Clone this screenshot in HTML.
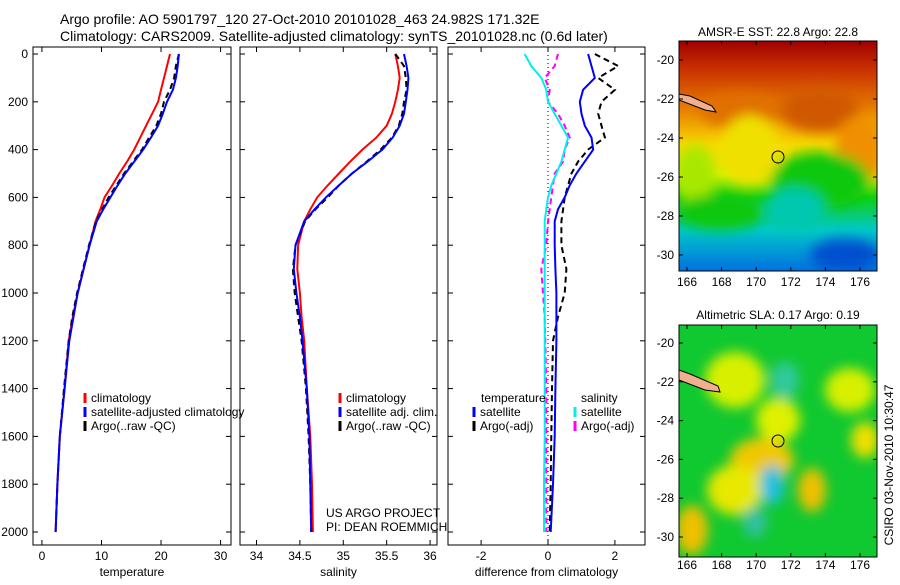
<!DOCTYPE html>
<html><head><meta charset="utf-8"><style>
body{margin:0;background:#fff;font-family:"Liberation Sans",sans-serif}
svg text{font-family:"Liberation Sans",sans-serif;fill:#000}
</style></head><body>
<svg id="c" width="900" height="580" xmlns="http://www.w3.org/2000/svg">
<defs>
<filter id="bl" x="-50%" y="-50%" width="200%" height="200%"><feGaussianBlur stdDeviation="6"/></filter>
<clipPath id="cm1"><rect x="679" y="41" width="198" height="230"/></clipPath>
<clipPath id="cm2"><rect x="679" y="325" width="198" height="232"/></clipPath>
<linearGradient id="sst" x1="0" y1="0" x2="0" y2="1">
<stop offset="0" stop-color="#a00000"/><stop offset="0.12" stop-color="#c83000"/><stop offset="0.3" stop-color="#e88000"/>
<stop offset="0.45" stop-color="#f8d800"/><stop offset="0.58" stop-color="#d8f000"/><stop offset="0.68" stop-color="#10d010"/>
<stop offset="0.82" stop-color="#00c8c8"/><stop offset="1" stop-color="#0070e0"/></linearGradient>
</defs>
<text x="60" y="24" font-size="14">Argo profile: AO 5901797_120 27-Oct-2010 20101028_463 24.982S 171.32E</text>
<text x="60" y="41" font-size="14">Climatology: CARS2009. Satellite-adjusted climatology: synTS_20101028.nc (0.6d later)</text>
<g id="panels"></g>
<!-- SST map -->
<g clip-path="url(#cm1)">
<rect x="679" y="41" width="198" height="230" fill="url(#sst)"/>
<g filter="url(#bl)">
<ellipse cx="820" cy="110" rx="40" ry="22" fill="#d05800"/>
<ellipse cx="860" cy="150" rx="25" ry="35" fill="#f09000"/>
<ellipse cx="740" cy="110" rx="40" ry="18" fill="#e07000"/>
<ellipse cx="695" cy="175" rx="20" ry="30" fill="#a8e800"/>
<ellipse cx="820" cy="180" rx="50" ry="28" fill="#10c810"/>
<ellipse cx="795" cy="210" rx="30" ry="22" fill="#00c8b0"/>
<ellipse cx="720" cy="212" rx="45" ry="18" fill="#10c810"/>
<ellipse cx="845" cy="255" rx="35" ry="16" fill="#0050d0"/>
<ellipse cx="750" cy="150" rx="30" ry="35" fill="#f0e000"/>
</g>
<path d="M679,94 L690,96 L712,106 L716,112 L705,110 L679,100Z" fill="#f0b090" stroke="#000"/>
<circle cx="778" cy="157" r="6" fill="none" stroke="#000"/>
</g>
<rect x="679" y="41" width="198" height="230" fill="none" stroke="#000"/>
<text x="778" y="36" font-size="12" text-anchor="middle">AMSR-E SST: 22.8 Argo: 22.8</text>
<!-- SLA map -->
<g clip-path="url(#cm2)">
<rect x="679" y="325" width="198" height="232" fill="#10c830"/>
<g filter="url(#bl)">
<ellipse cx="762" cy="460" rx="32" ry="22" fill="#f0c800"/>
<ellipse cx="735" cy="490" rx="28" ry="25" fill="#e8e800"/>
<ellipse cx="735" cy="380" rx="30" ry="28" fill="#d8f000"/>
<ellipse cx="778" cy="420" rx="22" ry="22" fill="#e0f000"/>
<ellipse cx="692" cy="530" rx="16" ry="25" fill="#f0c000"/>
<ellipse cx="812" cy="490" rx="14" ry="22" fill="#f0c000"/>
<ellipse cx="850" cy="390" rx="25" ry="22" fill="#d8f000"/>
<ellipse cx="865" cy="440" rx="14" ry="18" fill="#f0e000"/>
<ellipse cx="785" cy="380" rx="14" ry="18" fill="#30c8a0"/>
<ellipse cx="772" cy="485" rx="12" ry="20" fill="#20c0e0"/>
<ellipse cx="755" cy="522" rx="12" ry="16" fill="#30c0a0"/>
</g>
<path d="M679,370 L690,374 L718,386 L720,392 L705,390 L679,380Z" fill="#f0b090" stroke="#000"/>
<circle cx="778" cy="441" r="6" fill="none" stroke="#000"/>
</g>
<rect x="679" y="325" width="198" height="232" fill="none" stroke="#000"/>
<text x="778" y="319" font-size="12" text-anchor="middle">Altimetric SLA: 0.17 Argo: 0.19</text>
<text transform="translate(893,465) rotate(-90)" font-size="12" text-anchor="middle">CSIRO 03-Nov-2010 10:30:47</text>
<g id="mapaxes"></g>
</svg>
<script>
const NS="http://www.w3.org/2000/svg";
const depths=[0,50,100,150,200,250,300,350,400,450,500,550,600,650,700,800,900,1000,1100,1200,1400,1600,1800,2000];
const tClim=[21.5,21,20.5,20,19.5,18.5,17.5,16.5,15.5,14.3,13,11.8,10.5,9.8,9,8,7,6,5.2,4.5,3.8,3,2.6,2.3];
const tSat=[23,22.8,22.5,22,21,20.3,19.5,18.3,17,15.5,14,12.7,11.5,10.3,9.2,8,7,6,5.3,4.6,3.8,3,2.6,2.3];
const tArgo=[23,22.5,22.2,21.5,20.5,20,19.2,18,16.8,15.3,13.8,12.5,11.2,10.1,9.1,7.9,6.9,5.9,5.1,4.5,3.7,3,2.6,2.3];
const sClim=[35.6,35.63,35.65,35.63,35.6,35.56,35.5,35.38,35.22,35.08,34.95,34.82,34.7,34.62,34.55,34.48,34.47,34.5,34.52,34.55,34.58,34.62,34.64,34.65];
const sSat=[35.7,35.73,35.75,35.74,35.72,35.7,35.65,35.57,35.45,35.28,35.1,34.95,34.8,34.67,34.55,34.45,34.43,34.46,34.5,34.53,34.58,34.61,34.62,34.63];
const sArgo=[35.6,35.7,35.72,35.73,35.7,35.68,35.64,35.56,35.43,35.27,35.1,34.95,34.82,34.68,34.56,34.45,34.42,34.44,34.48,34.52,34.57,34.6,34.62,34.63];
const dTsat=[1.2,1.3,1.4,1.05,0.95,1.0,1.1,1.3,1.35,1.1,0.85,0.65,0.5,0.3,0.2,0.2,0.22,0.25,0.25,0.25,0.22,0.2,0.15,0.08];
const dTargo=[1.4,2.1,1.5,2.0,1.6,1.5,1.6,1.7,1.2,0.9,0.7,0.6,0.5,0.45,0.4,0.4,0.55,0.5,0.3,0.15,0.12,0.1,0.08,0.05];
const dSsat=[-0.7,-0.5,-0.2,-0.05,0.0,0.2,0.4,0.6,0.5,0.4,0.25,0.1,0.0,-0.05,-0.1,-0.1,-0.1,-0.1,-0.1,-0.1,-0.1,-0.1,-0.12,-0.12];
const dSargo=[0.3,0.2,-0.1,0.05,0.0,0.3,0.5,0.65,0.5,0.45,0.2,0.15,0.1,0.05,0.0,-0.05,-0.2,-0.15,-0.1,-0.08,-0.05,-0.05,-0.05,-0.05];
const depthTicks=[0,200,400,600,800,1000,1200,1400,1600,1800,2000];
const tTicks=[0,10,20,30], sTicks=[34,34.5,35,35.5,36], dTicks=[-2,0,2];
const lonTicks=[166,168,170,172,174,176], latTicks=[-20,-22,-24,-26,-28,-30];
const y=d=>54+d*0.239;
const g=document.getElementById('panels');
function el(t,a,p){const e=document.createElementNS(NS,t);for(const k in a)e.setAttribute(k,a[k]);(p||g).appendChild(e);return e;}
function txt(x,yy,s,size,anchor,p){const e=el('text',{x:x,y:yy,'font-size':size,'text-anchor':anchor||'start'},p);e.textContent=s;return e;}
const panels=[
 {x0:33,x1:231,lo:-1.5,hi:31.75,ticks:tTicks,lab:'temperature',name:'temperature'},
 {x0:240,x1:437,lo:33.81,hi:36.08,ticks:sTicks,lab:'salinity',name:'salinity'},
 {x0:448,x1:645,lo:-2.99,hi:2.9,ticks:dTicks,lab:'difference from climatology',name:'difference'}];
panels.forEach((p,i)=>{
 const sx=v=>p.x0+(v-p.lo)/(p.hi-p.lo)*(p.x1-p.x0);p.sx=sx;
 const f=el('rect',{x:p.x0,y:47,width:p.x1-p.x0,height:498,fill:'none',stroke:'#000'});
 
 
 p.ticks.forEach(t=>{const X=sx(t);el('line',{x1:X,x2:X,y1:47,y2:52,stroke:'#000'});el('line',{x1:X,x2:X,y1:545,y2:540,stroke:'#000'});
  const tl=txt(X,560,String(t),12,'middle');
  
  });
 depthTicks.forEach(d=>{el('line',{x1:p.x0,x2:p.x0+5,y1:y(d),y2:y(d),stroke:'#000'});el('line',{x1:p.x1,x2:p.x1-5,y1:y(d),y2:y(d),stroke:'#000'});
  if(i==0){const tl=txt(28,y(d)+4,String(d),12,'end');
   
   }});
 const at=txt((p.x0+p.x1)/2,576,p.lab,12,'middle');
 
 
});
function line(p,vals,color,dash,name,w){
 const pts=vals.map((v,k)=>p.sx(v).toFixed(1)+','+y(depths[k]).toFixed(1)).join(' ');
 const l=el('polyline',{points:pts,fill:'none',stroke:color,'stroke-width':w||2,'stroke-dasharray':dash||'none'});
 
 
}
const P=panels;
el('line',{x1:P[2].sx(0),x2:P[2].sx(0),y1:47,y2:545,stroke:'#000','stroke-dasharray':'1,3'});
line(P[0],tClim,'#f00',null,'temperature-climatology-line');
line(P[0],tArgo,'#000','6,4','temperature-argo-line');
line(P[0],tSat,'#00f',null,'temperature-satellite-line');
line(P[1],sClim,'#f00',null,'salinity-climatology-line');
line(P[1],sArgo,'#000','6,4','salinity-argo-line');
line(P[1],sSat,'#00f',null,'salinity-satellite-line');
line(P[2],dTargo,'#000','6,4','diff-temperature-argo-line');
line(P[2],dSargo,'#f0f','6,4','diff-salinity-argo-line');
line(P[2],dTsat,'#00f',null,'diff-temperature-satellite-line');
line(P[2],dSsat,'#0ee',null,'diff-salinity-satellite-line');
function leg(x,yy,color,label,name){
 const m=el('line',{x1:x,x2:x,y1:yy-9,y2:yy+1,stroke:color,'stroke-width':3});
 
 
 const t=txt(x+6,yy,label,12);
 
 
}
leg(85,402,'#f00','climatology','legend-climatology');
leg(85,416,'#00f','satellite-adjusted climatology','legend-satellite');
leg(85,430,'#000','Argo(..raw -QC)','legend-argo');
leg(340,402,'#f00','climatology','legend-sal-climatology');
leg(340,416,'#00f','satellite adj. clim.','legend-sal-satellite');
leg(340,430,'#000','Argo(..raw -QC)','legend-sal-argo');
let t=txt(481,402,'temperature',12);
t=txt(581,402,'salinity',12);
leg(474,416,'#00f','satellite','legend-diff-t-satellite');
leg(474,430,'#000','Argo(-adj)','legend-diff-t-argo');
leg(575,416,'#0ee','satellite','legend-diff-s-satellite');
leg(575,430,'#f0f','Argo(-adj)','legend-diff-s-argo');
t=txt(326,517,'US ARGO PROJECT',12);
t=txt(326,531,'PI: DEAN ROEMMICH',12);
// map axes
const ma=document.getElementById('mapaxes');
[[41,271,60,255,283],[325,557,343,537,566]].forEach((m,mi)=>{
 const lx=v=>687+(v-166)*17.3, ly=v=>m[2]+(-20-v)*(m[3]-m[2])/10;
 lonTicks.forEach(v=>{el('line',{x1:lx(v),x2:lx(v),y1:m[1],y2:m[1]-4,stroke:'#000'},ma);el('line',{x1:lx(v),x2:lx(v),y1:m[0],y2:m[0]+4,stroke:'#000'},ma);
  const l=txt(lx(v),m[4]+3,String(v),12,'middle',ma);
  
  });
 latTicks.forEach(v=>{el('line',{x1:679,x2:683,y1:ly(v),y2:ly(v),stroke:'#000'},ma);el('line',{x1:877,x2:873,y1:ly(v),y2:ly(v),stroke:'#000'},ma);
  const l=txt(674,ly(v)+4,String(v),12,'end',ma);
  
  });
});
</script>
</body></html>
